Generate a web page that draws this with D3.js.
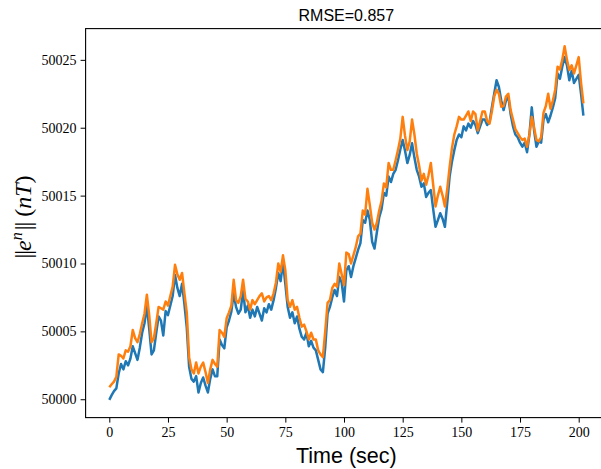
<!DOCTYPE html>
<html>
<head>
<meta charset="utf-8">
<script src="https://cdn.jsdelivr.net/npm/d3@7"></script>
<style>
  body { margin: 0; background: #fff; }
  svg { display: block; }
</style>
</head>
<body>
<div id="chart"></div>
<script>
// Chart data (one sample per second)
var title = "RMSE=0.857";
var xTicks = [0, 25, 50, 75, 100, 125, 150, 175, 200];
var yTicks = [50000, 50005, 50010, 50015, 50020, 50025];

// measured field norm (blue)
var measured = [
  49999.95, 50000.3, 50000.6, 50000.8, 50001.9, 50002.6, 50002.2, 50002.8, 50002.5, 50003.0,
  50003.9, 50003.4, 50002.9, 50003.8, 50004.9, 50005.6, 50006.9, 50005.2, 50003.3, 50003.6,
  50004.9, 50006.1, 50005.8, 50004.7, 50006.5, 50006.2, 50006.9, 50007.6, 50009.15, 50008.2,
  50007.6, 50008.5, 50007.0, 50005.3, 50002.4, 50001.5, 50001.3, 50001.7, 50000.5, 50001.2,
  50001.6, 50001.0, 50000.5, 50001.5, 50002.2, 50001.7, 50001.7, 50004.4, 50004.0, 50003.75,
  50005.3, 50005.8, 50006.45, 50007.8, 50006.8, 50006.3, 50006.6, 50008.0, 50006.4, 50006.9,
  50006.0, 50006.6, 50006.1, 50006.8, 50006.3, 50005.8, 50006.7, 50006.4, 50007.0, 50006.6,
  50007.3, 50008.2, 50009.3, 50008.7, 50010.1, 50008.5, 50006.8, 50006.0, 50006.4, 50005.6,
  50006.1, 50005.2, 50004.6, 50004.4, 50004.9, 50003.9, 50004.3, 50003.8, 50003.6, 50002.9,
  50002.2, 50002.0, 50003.8, 50006.3, 50006.8, 50007.5, 50008.05, 50007.6, 50009.0, 50008.6,
  50007.2, 50009.5, 50009.8, 50009.0, 50009.8, 50010.4, 50011.0, 50011.5, 50013.2, 50013.0,
  50013.9, 50013.2, 50011.6, 50011.1, 50012.3, 50013.4, 50014.0, 50015.2, 50015.0, 50016.4,
  50016.0, 50016.6, 50016.9, 50017.6, 50018.4, 50019.1, 50018.3, 50017.4, 50018.0, 50018.85,
  50017.8, 50016.9, 50016.4, 50015.65, 50015.9, 50014.9, 50015.2, 50015.4, 50014.0, 50012.7,
  50013.2, 50013.7, 50013.3, 50012.7, 50014.5, 50016.4, 50017.5, 50018.35, 50019.1, 50019.5,
  50019.3, 50020.1, 50019.8, 50020.3, 50020.0, 50020.5, 50020.2, 50019.6, 50020.1, 50020.6,
  50020.6, 50020.2, 50020.4, 50021.5, 50022.5, 50023.5, 50023.0, 50022.0, 50021.3, 50022.0,
  50022.3, 50021.0, 50020.1, 50019.5, 50019.3, 50018.9, 50018.6, 50018.9, 50018.2, 50019.5,
  50021.5, 50019.8, 50018.6, 50019.0, 50018.9, 50020.6, 50021.0, 50020.4, 50020.9, 50021.5,
  50022.2, 50024.0, 50023.6, 50024.5, 50025.2, 50024.6, 50023.5, 50024.2, 50023.3, 50023.6,
  50023.9, 50022.5, 50020.9
];

// predicted field norm (orange)
var predicted = [
  50000.88, 50001.1, 50001.3, 50001.66, 50003.3, 50003.2, 50003.0, 50003.6, 50003.5, 50003.9,
  50005.1, 50004.5, 50004.2, 50004.8, 50005.6, 50006.3, 50007.7, 50006.2, 50004.2, 50004.5,
  50005.6, 50006.8, 50006.7, 50006.6, 50007.2, 50006.9, 50007.6, 50008.3, 50009.9, 50009.2,
  50008.8, 50009.3, 50007.8, 50006.4, 50003.1, 50002.2, 50001.9, 50002.7, 50001.9, 50002.4,
  50002.7, 50002.0, 50001.2, 50002.2, 50002.9, 50002.6, 50002.4, 50005.1, 50004.9, 50004.6,
  50005.96, 50006.4, 50006.9, 50008.8, 50007.3, 50007.1, 50007.6, 50008.8, 50007.4, 50007.2,
  50006.6, 50007.3, 50007.0, 50007.3, 50007.6, 50007.8, 50007.2, 50007.5, 50007.6, 50007.3,
  50007.8, 50008.6, 50010.0, 50009.4, 50010.6, 50009.5, 50007.3, 50006.8, 50007.3, 50006.6,
  50006.8, 50006.0, 50005.35, 50005.5, 50005.0, 50004.4, 50004.9, 50004.4, 50004.4, 50003.6,
  50003.3, 50003.1, 50005.0, 50007.1, 50007.3, 50008.2, 50008.5, 50008.3, 50010.0, 50009.2,
  50008.4, 50010.8, 50010.7, 50010.0, 50010.6, 50011.2, 50012.0, 50012.2, 50013.9, 50013.6,
  50015.5, 50014.3, 50013.0, 50012.5, 50013.0, 50013.9, 50014.6, 50015.9, 50015.6, 50017.4,
  50016.9, 50016.9, 50017.6, 50018.35, 50019.2, 50020.8, 50019.4, 50018.35, 50019.0, 50020.6,
  50019.5, 50018.1, 50017.2, 50016.1, 50016.6, 50015.8, 50016.5, 50017.4, 50015.8, 50014.2,
  50015.0, 50015.65, 50015.0, 50014.2, 50015.5, 50017.1, 50018.5, 50019.5, 50020.1, 50020.8,
  50020.6, 50020.6, 50020.9, 50021.2, 50020.5, 50021.2, 50021.0, 50019.8, 50020.5, 50021.2,
  50021.2, 50020.5, 50020.3, 50021.2, 50022.3, 50022.8, 50022.5, 50021.55, 50021.6, 50022.3,
  50022.5, 50021.3, 50020.6, 50019.9, 50019.6, 50019.3, 50019.1, 50019.2, 50018.6, 50019.5,
  50020.8, 50020.0, 50019.1, 50019.0, 50019.3, 50021.1, 50021.6, 50022.5, 50021.4, 50022.0,
  50022.8, 50024.5, 50024.3, 50025.0, 50026.0, 50025.0, 50024.25, 50024.6, 50024.0, 50024.6,
  50025.2, 50023.3, 50021.8
];

var times = measured.map(function (d, i) { return i; });

// Size of the picture (the plot area runs past the right edge, as in the reference)
var svgWidth = 601;
var svgHeight = 469;

var plot = { left: 85.6, right: 607.1, top: 28.6, bottom: 417.6 };

var svg = d3.select("#chart")
  .append("svg")
  .attr("width", svgWidth)
  .attr("height", svgHeight);

// Scales with matplotlib-like 5% padding
var xExt = d3.extent(times);
var xPad = (xExt[1] - xExt[0]) * 0.05;
var yExt = d3.extent(measured.concat(predicted));
var yPad = (yExt[1] - yExt[0]) * 0.05;

var xScale = d3.scaleLinear()
  .domain([xExt[0] - xPad, xExt[1] + xPad])
  .range([plot.left, plot.right]);

var yScale = d3.scaleLinear()
  .domain([yExt[0] - yPad, yExt[1] + yPad])
  .range([plot.bottom, plot.top]);

// Axes
var bottomAxis = d3.axisBottom(xScale)
  .tickValues(xTicks)
  .tickFormat(d3.format("d"))
  .tickSizeInner(5)
  .tickSizeOuter(0)
  .tickPadding(4);

var leftAxis = d3.axisLeft(yScale)
  .tickValues(yTicks)
  .tickFormat(d3.format("d"))
  .tickSizeInner(5)
  .tickSizeOuter(0)
  .tickPadding(4);

var xAxisG = svg.append("g")
  .attr("transform", "translate(0," + plot.bottom + ")")
  .call(bottomAxis);

var yAxisG = svg.append("g")
  .attr("transform", "translate(" + plot.left + ",0)")
  .call(leftAxis);

[xAxisG, yAxisG].forEach(function (g) {
  g.select(".domain").remove();
  g.selectAll(".tick line").attr("stroke", "#000").attr("stroke-width", 1);
  g.selectAll(".tick text")
    .attr("fill", "#000")
    .style("font-family", "'Liberation Serif', 'DejaVu Serif', serif")
    .style("font-size", "14px");
});

// Lines
var line = d3.line()
  .x(function (d, i) { return xScale(times[i]); })
  .y(function (d) { return yScale(d); });

svg.append("path")
  .datum(measured)
  .attr("fill", "none")
  .attr("stroke", "#1f77b4")
  .attr("stroke-width", 2.5)
  .attr("stroke-linejoin", "round")
  .attr("d", line);

svg.append("path")
  .datum(predicted)
  .attr("fill", "none")
  .attr("stroke", "#ff7f0e")
  .attr("stroke-width", 2.5)
  .attr("stroke-linejoin", "round")
  .attr("d", line);

// Spines
svg.append("rect")
  .attr("x", plot.left)
  .attr("y", plot.top)
  .attr("width", plot.right - plot.left)
  .attr("height", plot.bottom - plot.top)
  .attr("fill", "none")
  .attr("stroke", "#000")
  .attr("stroke-width", 1.1);

// Title
svg.append("text")
  .attr("x", (plot.left + plot.right) / 2)
  .attr("y", 21)
  .attr("text-anchor", "middle")
  .style("font-family", "'Liberation Sans', Arial, sans-serif")
  .style("font-size", "16px")
  .text(title);

// Axis labels
svg.append("text")
  .attr("x", (plot.left + plot.right) / 2)
  .attr("y", 463)
  .attr("text-anchor", "middle")
  .style("font-family", "'Liberation Sans', Arial, sans-serif")
  .style("font-size", "21.5px")
  .text("Time (sec)");

var yLabel = svg.append("text")
  .attr("transform", "translate(31,217) rotate(-90)")
  .attr("text-anchor", "middle")
  .style("font-family", "'Liberation Serif', 'DejaVu Serif', serif")
  .style("font-size", "24px");

yLabel.append("tspan").attr("letter-spacing", "-1px").text("||");
yLabel.append("tspan").style("font-style", "italic").text("e");
yLabel.append("tspan").style("font-style", "italic").style("font-size", "16px")
  .attr("dy", -9).text("n");
yLabel.append("tspan").attr("dy", 9).attr("dx", 2).attr("letter-spacing", "-1px").text("||");
yLabel.append("tspan").text(" (");
yLabel.append("tspan").style("font-style", "italic").text("nT");
yLabel.append("tspan").text(")");
</script>
</body>
</html>
